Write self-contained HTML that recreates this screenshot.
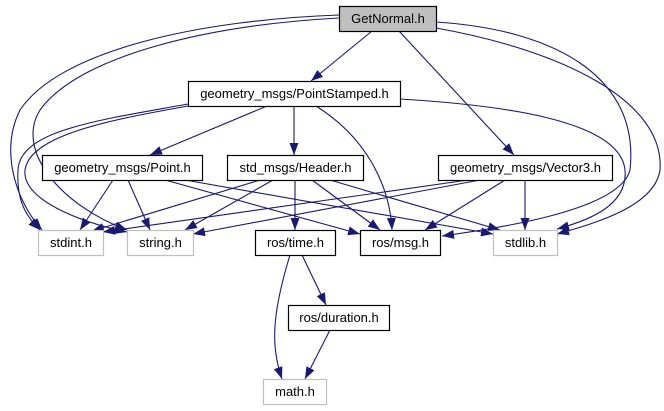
<!DOCTYPE html>
<html><head><meta charset="utf-8"><style>
body{margin:0;background:#fff;}
svg{display:block;}
text{font-family:"Liberation Sans",Arial,sans-serif;font-size:13px;fill:#000;}
</style></head><body>
<svg width="664" height="411" viewBox="0 0 664 411" xmlns="http://www.w3.org/2000/svg">
<defs>
<marker id="a" viewBox="0 0 12 9" refX="12" refY="4.5" markerWidth="12" markerHeight="9" markerUnits="userSpaceOnUse" orient="auto">
<path d="M0,0 L12,4.5 L0,9 Z" fill="#191970"/>
</marker>
</defs>
<g fill="none" stroke="#191970" stroke-width="1.1" marker-end="url(#a)">
<path d="M372,31 L311,81"/>
<path d="M399,31 L514,155"/>
<path d="M339,15 C200,20 60,50 20,110 C0,150 15,200 42,230"/>
<path d="M339,18 C210,25 80,55 40,110 C15,150 60,205 127,230"/>
<path d="M436,22 C560,30 640,80 630,170 C620,210 500,228 442,236"/>
<path d="M436,28 C560,50 665,100 660,170 C655,205 600,222 557,234"/>
<path d="M267,106 L150,155"/>
<path d="M294,106 L294,155"/>
<path d="M316,106 C370,140 390,190 392,230"/>
<path d="M400,99 C500,105 620,120 625,170 C628,205 590,220 557,229"/>
<path d="M188,104 C100,120 20,130 18,170 C16,205 30,220 40,230"/>
<path d="M188,106 C110,120 30,135 25,170 C22,200 80,222 127,232"/>
<path d="M113,180 L80,230"/>
<path d="M128,180 L150,230"/>
<path d="M165,180 L360,234"/>
<path d="M185,180 L493,234"/>
<path d="M260,180 L92,231"/>
<path d="M273,180 L185,230"/>
<path d="M295,180 L295,230"/>
<path d="M312,180 L380,230"/>
<path d="M330,180 L500,230"/>
<path d="M468,180 L103,232"/>
<path d="M480,180 L193,234"/>
<path d="M505,180 L425,230"/>
<path d="M525,180 L525,230"/>
<path d="M302,255 L326,305"/>
<path d="M290,255 C270,320 272,350 282,379"/>
<path d="M330,330 L305,379"/>
</g>
<g stroke-width="1.2">
<rect x="339.5" y="6.5" width="97" height="25" fill="#bfbfbf" stroke="#000"/>
<rect x="188.5" y="81.5" width="212" height="25" fill="#fff" stroke="#000"/>
<rect x="42.5" y="155.5" width="160" height="25" fill="#fff" stroke="#000"/>
<rect x="227.5" y="155.5" width="136" height="25" fill="#fff" stroke="#000"/>
<rect x="438.5" y="155.5" width="174" height="25" fill="#fff" stroke="#000"/>
<rect x="38.5" y="230.5" width="65" height="25" fill="#fff" stroke="#bfbfbf"/>
<rect x="127.5" y="230.5" width="66" height="25" fill="#fff" stroke="#bfbfbf"/>
<rect x="255.5" y="230.5" width="80" height="25" fill="#fff" stroke="#000"/>
<rect x="360.5" y="230.5" width="80" height="25" fill="#fff" stroke="#000"/>
<rect x="493.5" y="230.5" width="64" height="25" fill="#fff" stroke="#bfbfbf"/>
<rect x="288.5" y="305.5" width="101" height="25" fill="#fff" stroke="#000"/>
<rect x="263.5" y="379.5" width="63" height="25" fill="#fff" stroke="#bfbfbf"/>
</g>
<g text-anchor="middle">
<text x="388" y="23">GetNormal.h</text>
<text x="294.5" y="98">geometry_msgs/PointStamped.h</text>
<text x="122.5" y="172">geometry_msgs/Point.h</text>
<text x="295.5" y="172">std_msgs/Header.h</text>
<text x="525.5" y="172">geometry_msgs/Vector3.h</text>
<text x="71" y="247">stdint.h</text>
<text x="160.5" y="247">string.h</text>
<text x="295.5" y="247">ros/time.h</text>
<text x="400.5" y="247">ros/msg.h</text>
<text x="525.5" y="247">stdlib.h</text>
<text x="339" y="322">ros/duration.h</text>
<text x="295" y="396">math.h</text>
</g>
</svg>
</body></html>
